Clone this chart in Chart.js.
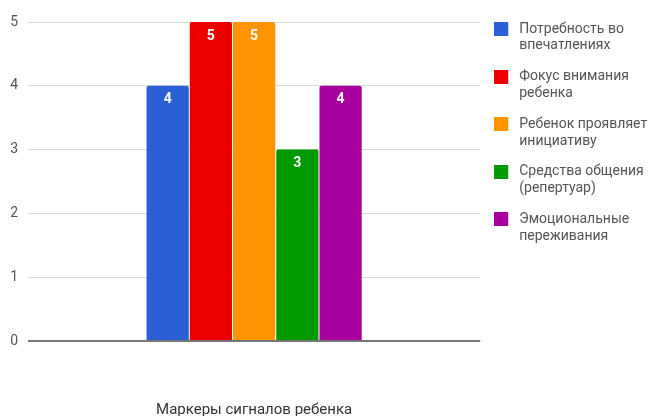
<!DOCTYPE html>
<html><head><meta charset="utf-8">
<script src="https://cdn.jsdelivr.net/npm/chart.js@4/dist/chart.umd.min.js"></script>
<style>html,body{margin:0;padding:0;background:#fff;overflow:hidden}canvas{display:block}</style>
</head><body><canvas id="c" width="653" height="416"></canvas>
<script>
const categories = ["Маркеры сигналов ребенка"];
const seriesNames = [
  ["Потребность во", "впечатлениях"],
  ["Фокус внимания", "ребенка"],
  ["Ребенок проявляет", "инициативу"],
  ["Средства общения", "(репертуар)"],
  ["Эмоциональные", "переживания"]
];
const seriesValues = [4, 5, 5, 3, 4];
const seriesColors = ["#2b5fd6", "#ee0000", "#ff9400", "#009a00", "#a8009e"];
const yTicks = [0, 1, 2, 3, 4, 5];

// legend swatch: 14x14 square inside an 18px-wide slot (extra gap before text)
function swatch(color) {
  const c = document.createElement('canvas');
  c.width = 18; c.height = 14;
  const g = c.getContext('2d');
  g.fillStyle = color;
  g.fillRect(0, 0, 14, 14);
  return c;
}

const labelPlugin = {
  id: 'valLabels',
  afterDatasetsDraw(chart) {
    const ctx = chart.ctx;
    ctx.save();
    ctx.font = 'bold 14px Roboto';
    ctx.fillStyle = '#fff';
    ctx.textAlign = 'center';
    ctx.textBaseline = 'middle';
    chart.data.datasets.forEach((ds, i) => {
      chart.getDatasetMeta(i).data.forEach((el, j) => {
        ctx.fillText(String(ds.data[j]), el.x, el.y + 14);
      });
    });
    ctx.restore();
  }
};

// widen the legend box a little so the longest label fits
const legendWiden = {
  id: 'legendWiden',
  beforeLayout(chart) {
    const lg = chart.legend;
    if (lg && !lg._widened) {
      const fit = lg.fit.bind(lg);
      lg.fit = function () { fit(); this.width += 10; };
      lg._widened = true;
    }
  }
};

new Chart(document.getElementById('c'), {
  type: 'bar',
  data: {
    labels: categories,
    datasets: seriesNames.map((n, i) => ({
      label: n,
      data: [seriesValues[i]],
      backgroundColor: seriesColors[i],
      barPercentage: 0.977,
      categoryPercentage: 0.478,
      borderRadius: 2,
      borderSkipped: 'start',
      pointStyle: swatch(seriesColors[i])
    }))
  },
  options: {
    responsive: false,
    animation: false,
    layout: { padding: { top: 8, right: 0, bottom: 0, left: 2 } },
    plugins: {
      tooltip: { enabled: false },
      legend: {
        position: 'right',
        align: 'start',
        labels: {
          usePointStyle: true,
          pointStyleWidth: 18,
          boxHeight: 14,
          padding: 14,
          color: '#555',
          font: { family: 'Roboto', size: 14 }
        }
      }
    },
    scales: {
      x: {
        grid: { display: false, drawTicks: false },
        border: { display: false },
        ticks: { color: '#333', padding: 60, font: { family: 'Roboto', size: 15 } },
        afterFit(axis) { axis.height = 75; }
      },
      y: {
        min: 0, max: 5,
        afterBuildTicks(axis) { axis.ticks = yTicks.map(v => ({ value: v })); },
        afterFit(axis) { axis.width = 26; axis.paddingTop = 22; },
        border: { display: false },
        grid: {
          drawTicks: false,
          color: c => c.tick && c.tick.value === 0 ? '#777' : '#d9d9d9',
          lineWidth: c => c.tick && c.tick.value === 0 ? 2 : 1
        },
        ticks: { color: '#555', padding: 10, font: { family: 'Roboto', size: 14 } }
      }
    }
  },
  plugins: [labelPlugin, legendWiden]
});
</script></body></html>
